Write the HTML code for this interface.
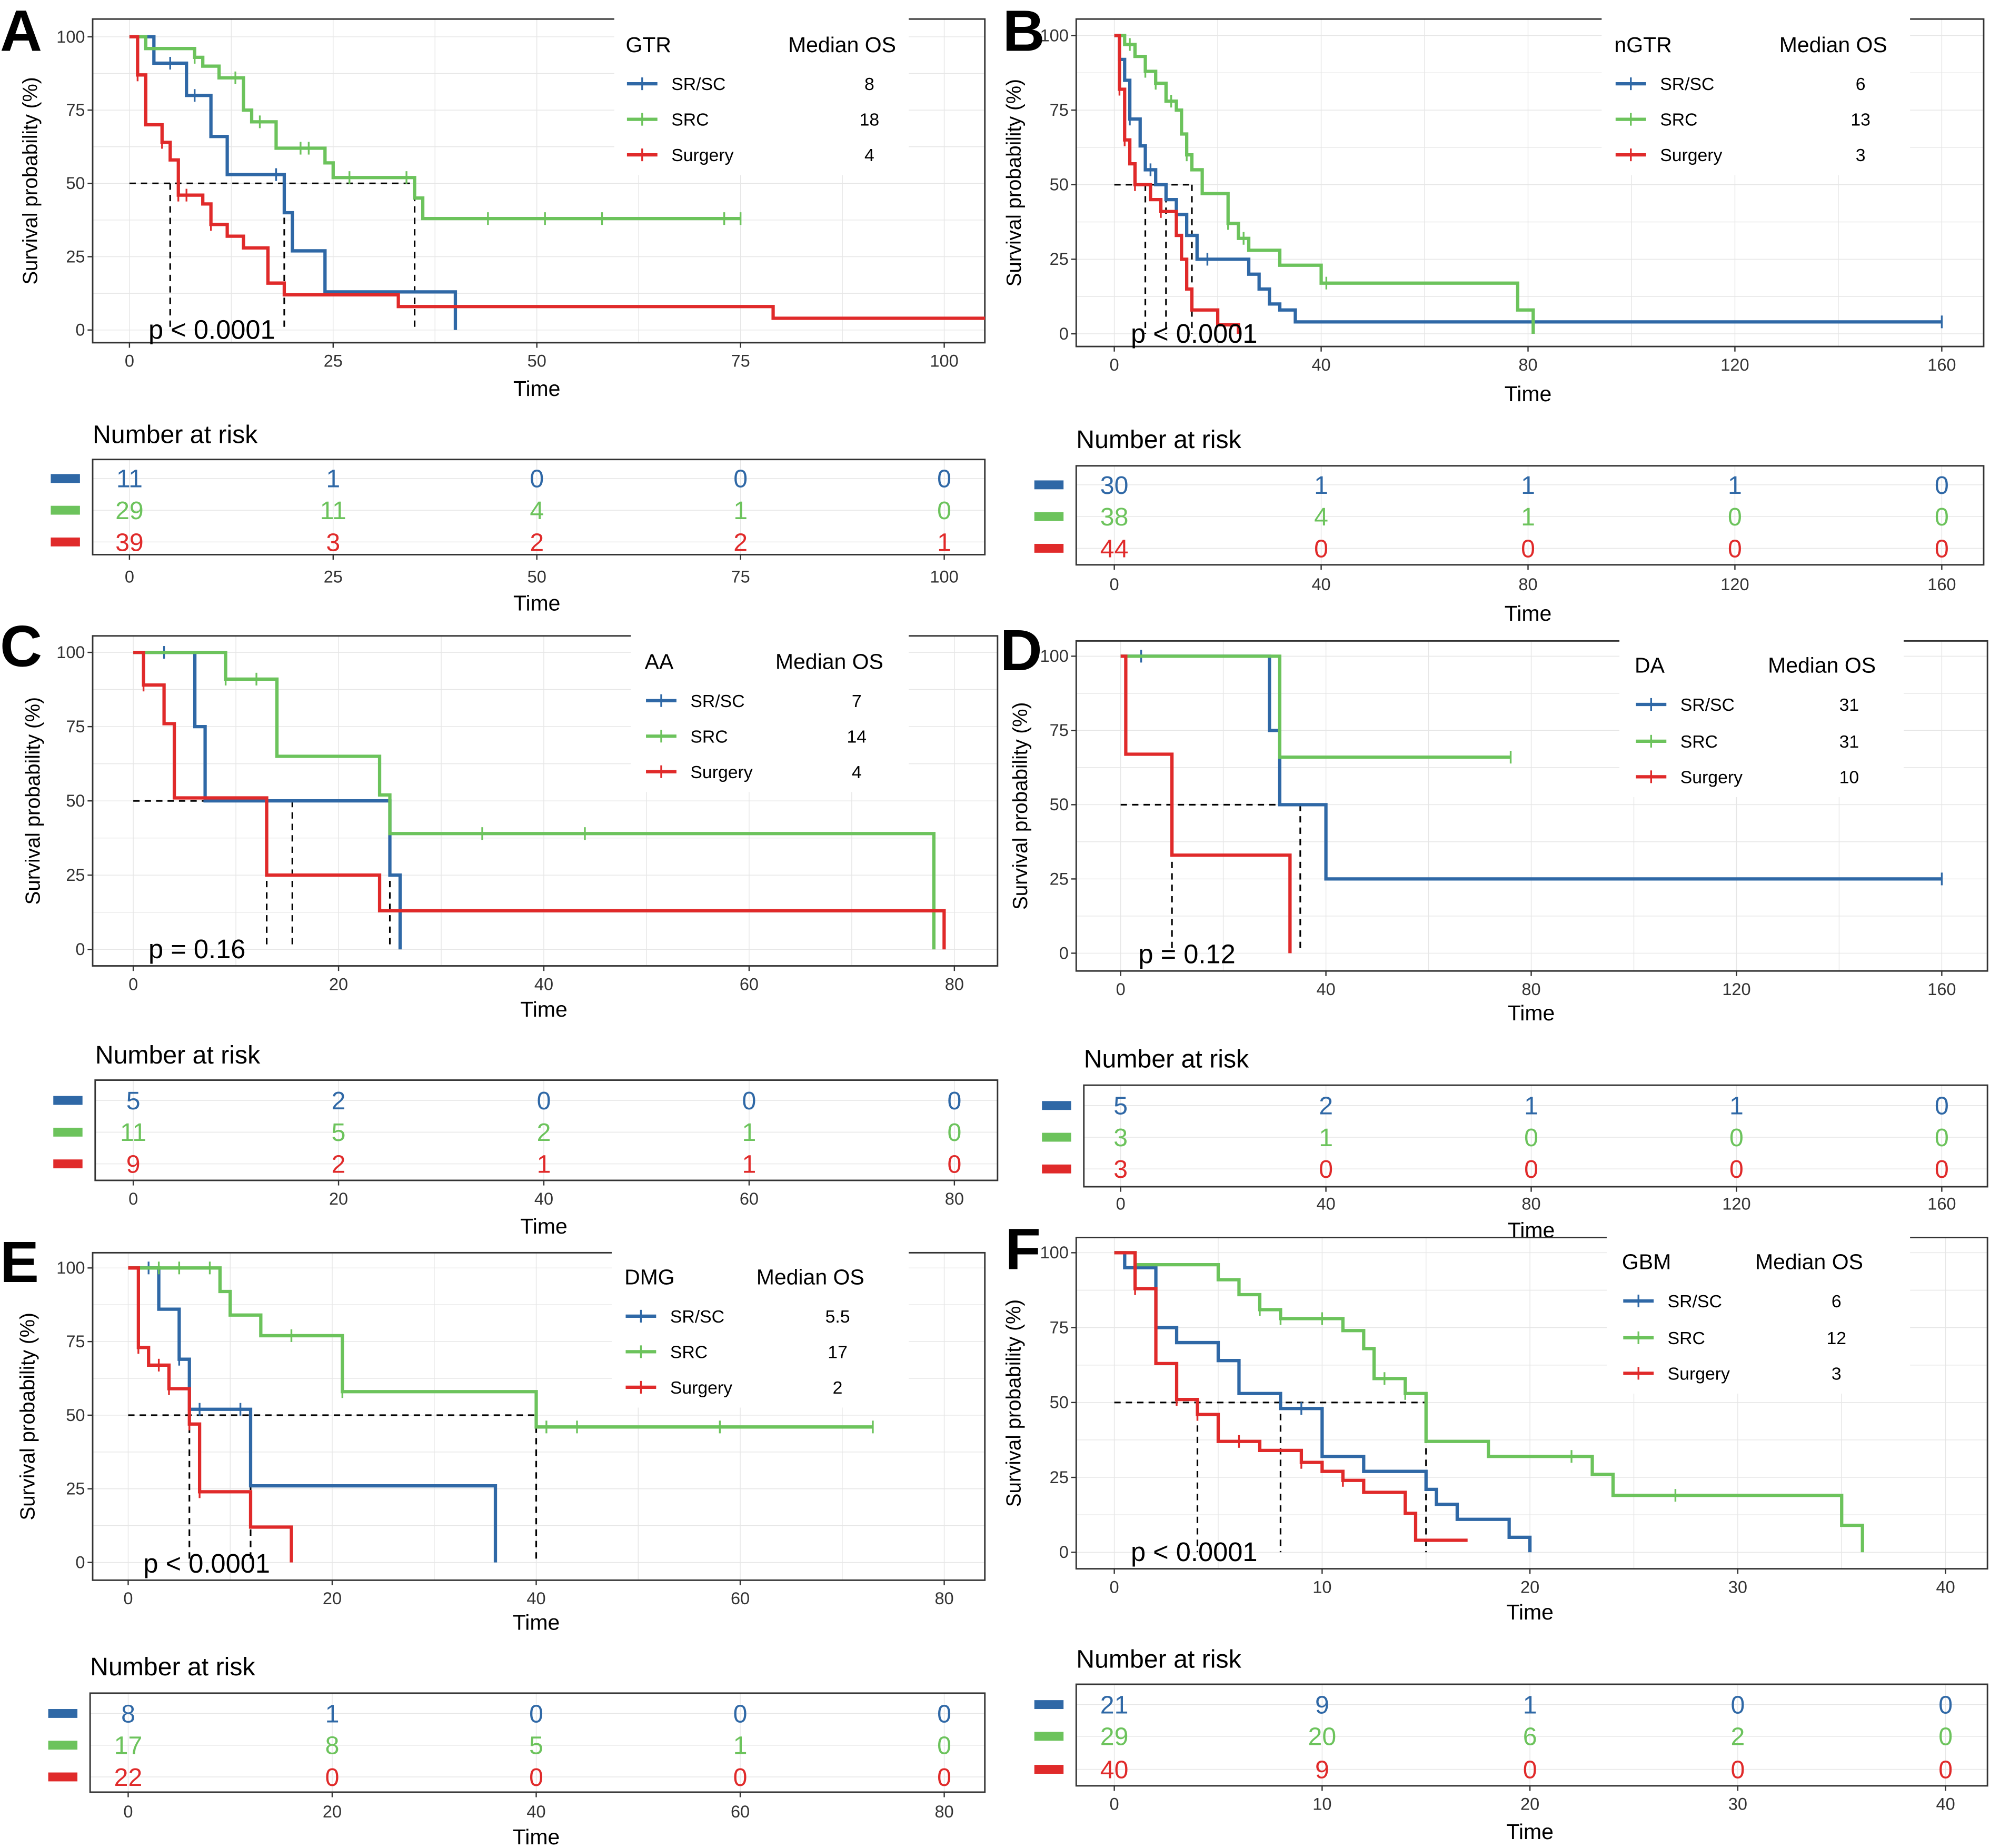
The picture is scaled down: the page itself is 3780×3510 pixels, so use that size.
<!DOCTYPE html>
<html><head><meta charset="utf-8">
<style>
html,body{margin:0;padding:0;background:#fff}
svg{display:block}
text{font-family:"Liberation Sans Narrow","Liberation Sans",sans-serif}
</style></head>
<body>
<svg id="fig" xmlns="http://www.w3.org/2000/svg" width="3780" height="3510" viewBox="0 0 1568 1456"></svg>
<script>
// ---------- DATA ----------
const A_blueT=[0,3,7,10,12,19,20,24,40], A_blueS=[100,91,80,66,53,40,27,13,0], A_blueEnd=40, A_blueC=[5,8,18];
const A_greenT=[0,2,8,9,11,14,15,18,24,25,35,36], A_greenS=[100,96,93,90,86,75,71,62,57,52,45,38], A_greenEnd=75, A_greenC=[8,13,16,21,22,27,34,44,51,58,73,75];
const A_redT=[0,1,2,4,5,6,9,10,12,14,17,19,33,79], A_redS=[100,87,70,64,58,46,43,36,32,28,16,12,8,4], A_redEnd=105, A_redC=[1,4,6,7,10];
const A_risk_blue=[11,1,0,0,0], A_risk_green=[29,11,4,1,0], A_risk_red=[39,3,2,2,1], A_median=["8","18","4"], A_ticks=[0,25,50,75,100], A_medlines=[5,19,35];

const B_blueT=[0,1,2,3,5,6,8,10,12,14,16,26,28,30,32,35], B_blueS=[100,92,85,72,63,55,50,45,40,33,25,20,15,10,8,4], B_blueEnd=160, B_blueC=[3,7,18,160];
const B_greenT=[0,2,4,6,8,10,12,13,14,15,17,22,24,26,32,40,78,81], B_greenS=[100,97,93,88,84,78,75,67,60,55,47,37,32,28,23,17,8,0], B_greenEnd=81, B_greenC=[3,6,8,11,14,22,25,41];
const B_redT=[0,1,2,3,4,7,9,12,13,14,15,20,24], B_redS=[100,82,65,57,50,45,41,33,25,15,8,3,0], B_redEnd=24, B_redC=[1,2,4,9];
const B_risk_blue=[30,1,1,1,0], B_risk_green=[38,4,1,0,0], B_risk_red=[44,0,0,0,0], B_median=["6","13","3"], B_ticks=[0,40,80,120,160], B_medlines=[6,10,15];

const C_blueT=[0,6,7,25,26], C_blueS=[100,75,50,25,0], C_blueEnd=26, C_blueC=[3];
const C_greenT=[0,9,14,24,25,78], C_greenS=[100,91,65,52,39,0], C_greenEnd=78, C_greenC=[9,12,34,44];
const C_redT=[0,1,3,4,13,24,79], C_redS=[100,89,76,51,25,13,0], C_redEnd=79, C_redC=[1];
const C_risk_blue=[5,2,0,0,0], C_risk_green=[11,5,2,1,0], C_risk_red=[9,2,1,1,0], C_median=["7","14","4"], C_ticks=[0,20,40,60,80], C_medlines=[13,15.5,25];

const D_blueT=[0,29,31,40], D_blueS=[100,75,50,25], D_blueEnd=160, D_blueC=[4,160];
const D_greenT=[0,31], D_greenS=[100,66], D_greenEnd=76, D_greenC=[76];
const D_redT=[0,1,10,33], D_redS=[100,67,33,0], D_redEnd=33, D_redC=[];
const D_risk_blue=[5,2,1,1,0], D_risk_green=[3,1,0,0,0], D_risk_red=[3,0,0,0,0], D_median=["31","31","10"], D_ticks=[0,40,80,120,160], D_medlines=[10,35];

const E_blueT=[0,3,5,6,12,36], E_blueS=[100,86,69,52,26,0], E_blueEnd=36, E_blueC=[2,5,7,11];
const E_greenT=[0,9,10,13,21,40], E_greenS=[100,92,84,77,58,46], E_greenEnd=73, E_greenC=[3,5,8,16,21,41,44,58,73];
const E_redT=[0,1,2,4,6,7,12,16], E_redS=[100,73,67,59,47,24,12,0], E_redEnd=16, E_redC=[1,3,4,6,7];
const E_risk_blue=[8,1,0,0,0], E_risk_green=[17,8,5,1,0], E_risk_red=[22,0,0,0,0], E_median=["5.5","17","2"], E_ticks=[0,20,40,60,80], E_medlines=[6,12,40];

const F_blueT=[0,0.5,2,3,5,6,8,10,12,15,15.5,16.5,19,20], F_blueS=[100,95,75,70,64,53,48,32,27,21,16,11,5,0], F_blueEnd=20, F_blueC=[1,2,9];
const F_greenT=[0,1,5,6,7,8,11,12,12.5,14,15,18,23,24,35,36], F_greenS=[100,96,91,86,81,78,74,68,58,53,37,32,26,19,9,0], F_greenEnd=36, F_greenC=[7,8,10,13,14,22,27];
const F_redT=[0,1,2,3,4,5,7,9,10,11,12,14,14.5], F_redS=[100,88,63,51,46,37,34,30,27,24,20,13,4], F_redEnd=17, F_redC=[1,3,4,6,9,11];
const F_risk_blue=[21,9,1,0,0], F_risk_green=[29,20,6,2,0], F_risk_red=[40,9,0,0,0], F_median=["6","12","3"], F_ticks=[0,10,20,30,40], F_medlines=[4,8,15];

// ---------- LAYOUT ----------
const COL={blue:"#2f68a6",green:"#6cc35c",red:"#e02a2a"};
const svg=document.getElementById('fig');
const NS="http://www.w3.org/2000/svg";
function el(tag,attrs,parent,text){const e=document.createElementNS(NS,tag);for(const k in attrs)e.setAttribute(k,attrs[k]);if(text!==undefined)e.textContent=text;(parent||svg).appendChild(e);return e;}

const panels=[
 {id:'A',L:'A',lx0:0,ly:40,g:'GTR',box:[73,776,15,270],xp:[102,744],yp:[29,260],xmax:100,leg:[484,716],lgx:494,medX:685,ly0:35,rows:[66,94,122],
  p:[117,260],ylab:25,time:312,risk:{title:342,box:[73,776,362,437],rows:[377,402,427],tick:455,time:475},
  d:{blue:[A_blueT,A_blueS,A_blueEnd,A_blueC],green:[A_greenT,A_greenS,A_greenEnd,A_greenC],red:[A_redT,A_redS,A_redEnd,A_redC]},
  rk:[A_risk_blue,A_risk_green,A_risk_red],med:A_median,ticks:A_ticks,ml:A_medlines,pt:'p < 0.0001'},
 {id:'B',L:'B',lx0:790,ly:40,g:'nGTR',box:[848,1563,15,273],xp:[878,1530],yp:[28,263],xmax:160,leg:[1262,1505],lgx:1273,medX:1466,ly0:35,rows:[66,94,122],
  p:[891,263],ylab:800,time:316,risk:{title:346,box:[848,1563,367,445],rows:[382,407,432],tick:461,time:483},
  d:{blue:[B_blueT,B_blueS,B_blueEnd,B_blueC],green:[B_greenT,B_greenS,B_greenEnd,B_greenC],red:[B_redT,B_redS,B_redEnd,B_redC]},
  rk:[B_risk_blue,B_risk_green,B_risk_red],med:B_median,ticks:B_ticks,ml:B_medlines,pt:'p < 0.0001'},
 {id:'C',L:'C',lx0:0,ly:525,g:'AA',box:[73,786,501,761],xp:[105,752],yp:[514,748],xmax:80,leg:[497,716],lgx:509,medX:675,ly0:521,rows:[552,580,608],
  p:[117,748],ylab:27,time:801,risk:{title:831,box:[75,786,851,930],rows:[867,892,917],tick:945,time:966},
  d:{blue:[C_blueT,C_blueS,C_blueEnd,C_blueC],green:[C_greenT,C_greenS,C_greenEnd,C_greenC],red:[C_redT,C_redS,C_redEnd,C_redC]},
  rk:[C_risk_blue,C_risk_green,C_risk_red],med:C_median,ticks:C_ticks,ml:C_medlines,pt:'p = 0.16'},
 {id:'D',L:'D',lx0:788,ly:528,g:'DA',box:[848,1566,505,765],xp:[883,1530],yp:[517,751],xmax:160,leg:[1276,1500],lgx:1289,medX:1457,ly0:524,rows:[555,584,612],
  p:[897,752],ylab:805,time:804,risk:{title:834,box:[854,1566,855,935],rows:[871,896,921],tick:949,time:969},
  d:{blue:[D_blueT,D_blueS,D_blueEnd,D_blueC],green:[D_greenT,D_greenS,D_greenEnd,D_greenC],red:[D_redT,D_redS,D_redEnd,D_redC]},
  rk:[D_risk_blue,D_risk_green,D_risk_red],med:D_median,ticks:D_ticks,ml:D_medlines,pt:'p = 0.12'},
 {id:'E',L:'E',lx0:0,ly:1010,g:'DMG',box:[73,776,987,1245],xp:[101,744],yp:[999,1231],xmax:80,leg:[482,716],lgx:493,medX:660,ly0:1006,rows:[1037,1065,1093],
  p:[113,1232],ylab:23,time:1284,risk:{title:1313,box:[71,776,1334,1412],rows:[1350,1375,1400],tick:1428,time:1447},
  d:{blue:[E_blueT,E_blueS,E_blueEnd,E_blueC],green:[E_greenT,E_greenS,E_greenEnd,E_greenC],red:[E_redT,E_redS,E_redEnd,E_redC]},
  rk:[E_risk_blue,E_risk_green,E_risk_red],med:E_median,ticks:E_ticks,ml:E_medlines,pt:'p < 0.0001'},
 {id:'F',L:'F',lx0:792,ly:1000,g:'GBM',box:[848,1566,975,1236],xp:[878,1533],yp:[987,1223],xmax:40,leg:[1266,1505],lgx:1279,medX:1447,ly0:994,rows:[1025,1054,1082],
  p:[891,1223],ylab:800,time:1276,risk:{title:1307,box:[848,1566,1327,1407],rows:[1343,1368,1394],tick:1422,time:1443},
  d:{blue:[F_blueT,F_blueS,F_blueEnd,F_blueC],green:[F_greenT,F_greenS,F_greenEnd,F_greenC],red:[F_redT,F_redS,F_redEnd,F_redC]},
  rk:[F_risk_blue,F_risk_green,F_risk_red],med:F_median,ticks:F_ticks,ml:F_medlines,pt:'p < 0.0001'}
];
const names=['SR/SC','SRC','Surgery'], keys=['blue','green','red'];

panels.forEach(P=>{
  const g=el('g',{});
  
  
  const [bx0,bx1,by0,by1]=P.box;
  const X=t=>P.xp[0]+t*(P.xp[1]-P.xp[0])/P.xmax;
  const Y=s=>P.yp[1]-s*(P.yp[1]-P.yp[0])/100;
  const step=P.ticks[1]-P.ticks[0];
  for(let v=P.ticks[0]-step/2;v<=P.xmax+step;v+=step/2){const x=X(v);if(x>bx0&&x<bx1){const gl=el('line',{x1:x,x2:x,y1:by0,y2:by1,stroke:'#e6e6e6','stroke-width':0.6},g);}}
  for(let v=-12.5;v<=112.5;v+=12.5){const y=Y(v);if(y>by0&&y<by1){const gl=el('line',{x1:bx0,x2:bx1,y1:y,y2:y,stroke:'#e6e6e6','stroke-width':0.6},g);}}
  const fr=el('rect',{x:bx0,y:by0,width:bx1-bx0,height:by1-by0,fill:'none',stroke:'#333','stroke-width':1.2},g);
  
  const lb=el('rect',{x:P.leg[0],y:by0-2,width:P.leg[1]-P.leg[0],height:P.rows[2]+16-by0+2,fill:'#fff'},g);
  
  P.ticks.forEach(t=>{
    el('line',{x1:X(t),x2:X(t),y1:by1,y2:by1+4,stroke:'#333','stroke-width':1},g);
    const tl=el('text',{x:X(t),y:by1+19,'font-size':13.5,'text-anchor':'middle',fill:'#333'},g,String(t));
    
  });
  [0,25,50,75,100].forEach(v=>{
    el('line',{x1:bx0-4,x2:bx0,y1:Y(v),y2:Y(v),stroke:'#333','stroke-width':1},g);
    const tl=el('text',{x:bx0-6,y:Y(v)+4.5,'font-size':13.5,'text-anchor':'end',fill:'#333'},g,String(v));
    
  });
  const xt=el('text',{x:(P.xp[0]+P.xp[1])/2,y:P.time,'font-size':17,'text-anchor':'middle'},g,'Time');
  
  const yc=(by0+by1)/2;
  const yt=el('text',{x:P.ylab,y:yc,'font-size':16,'text-anchor':'middle',transform:`rotate(-90 ${P.ylab} ${yc})`,'dominant-baseline':'middle'},g,'Survival probability (%)');
  
  const mmax=Math.max(...P.ml);
  const mh=el('line',{x1:X(0),x2:X(mmax),y1:Y(50),y2:Y(50),stroke:'#000','stroke-width':1.3,'stroke-dasharray':'5,4'},g);
  
  P.ml.forEach(m=>{const mv=el('line',{x1:X(m),x2:X(m),y1:Y(50),y2:Y(0),stroke:'#000','stroke-width':1.3,'stroke-dasharray':'5,4'},g);
    });
  keys.forEach((k,i)=>{
    const [T,S,end,C]=P.d[k];
    let d=`M${X(T[0])},${Y(S[0])}`;
    for(let j=1;j<T.length;j++){d+=` H${X(T[j])} V${Y(S[j])}`;}
    d+=` H${X(end)}`;
    const p=el('path',{d:d,fill:'none',stroke:COL[k],'stroke-width':2.6},g);
    
    
    C.forEach(c=>{let s=S[0];for(let j=0;j<T.length;j++)if(T[j]<=c)s=S[j];
      const cm=el('line',{x1:X(c),x2:X(c),y1:Y(s)-5,y2:Y(s)+5,stroke:COL[k],'stroke-width':1.4},g);
      });
  });
  const pv=el('text',{x:P.p[0],y:P.p[1]+7,'font-size':21},g,P.pt);
  
  const lt=el('text',{x:P.lgx-1,y:P.ly0+6,'font-size':17},g,P.g);
  
  const lm=el('text',{x:P.medX+21,y:P.ly0+6,'font-size':17,'text-anchor':'end'},g,'Median OS');
  
  keys.forEach((k,i)=>{
    const ry=P.rows[i];
    const le=el('g',{},g);
    
    
    el('line',{x1:P.lgx,x2:P.lgx+24,y1:ry,y2:ry,stroke:COL[k],'stroke-width':2.6},le);
    el('line',{x1:P.lgx+12,x2:P.lgx+12,y1:ry-5,y2:ry+5,stroke:COL[k],'stroke-width':1.4},le);
    el('text',{x:P.lgx+35,y:ry+5,'font-size':14},le,names[i]);
    el('text',{x:P.medX,y:ry+5,'font-size':14,'text-anchor':'middle'},le,P.med[i]);
  });
  const R=P.risk;
  const rt=el('text',{x:R.box[0],y:R.title+7,'font-size':20},g,'Number at risk');
  
  R.rows.forEach(ry=>el('line',{x1:R.box[0],x2:R.box[1],y1:ry,y2:ry,stroke:'#e6e6e6','stroke-width':0.6},g));
  P.ticks.forEach(t=>el('line',{x1:X(t),x2:X(t),y1:R.box[2],y2:R.box[3],stroke:'#e6e6e6','stroke-width':0.6},g));
  const rb=el('rect',{x:R.box[0],y:R.box[2],width:R.box[1]-R.box[0],height:R.box[3]-R.box[2],fill:'none',stroke:'#333','stroke-width':1.2},g);
  
  keys.forEach((k,i)=>{
    const sw=el('rect',{x:R.box[0]-33,y:R.rows[i]-3.5,width:23,height:7,fill:COL[k]},g);
    
    P.rk[i].forEach((n,j)=>{
      const nt=el('text',{x:X(P.ticks[j]),y:R.rows[i]+7,'font-size':20,'text-anchor':'middle',fill:COL[k]},g,String(n));
      
    });
  });
  P.ticks.forEach(t=>{el('line',{x1:X(t),x2:X(t),y1:R.box[3],y2:R.box[3]+4,stroke:'#333','stroke-width':1},g);
    el('text',{x:X(t),y:R.tick+4,'font-size':13.5,'text-anchor':'middle',fill:'#333'},g,String(t));});
  const rtt=el('text',{x:(P.xp[0]+P.xp[1])/2,y:R.time+6,'font-size':17,'text-anchor':'middle'},g,'Time');
  
  const lab=el('text',{x:P.lx0,y:P.ly,'font-size':46,'font-weight':'bold','font-family':'"Liberation Sans",sans-serif'},g,P.L);
  
});
</script>
</body></html>
